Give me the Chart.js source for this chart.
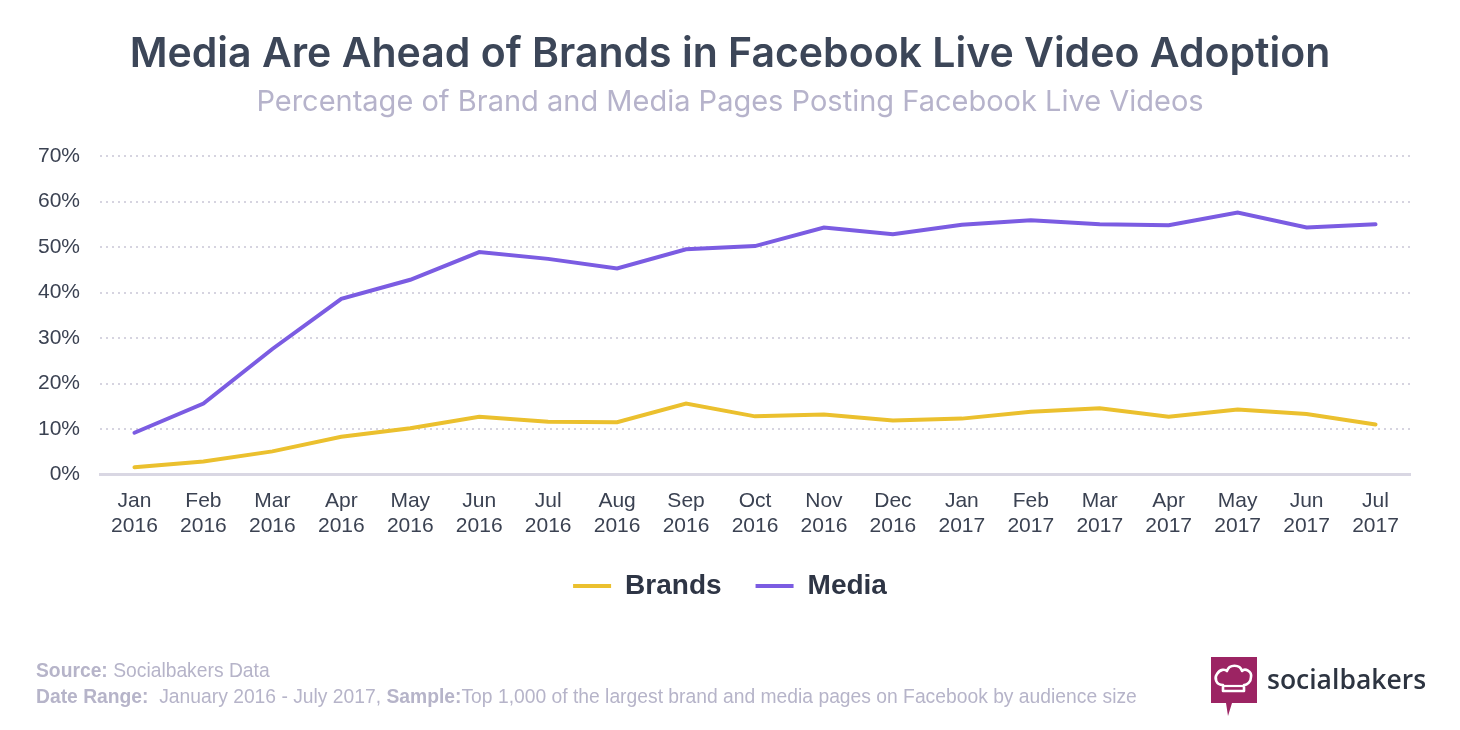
<!DOCTYPE html>
<html>
<head>
<meta charset="utf-8">
<script src="https://cdn.jsdelivr.net/npm/chart.js@4.4.1/dist/chart.umd.min.js"></script>
<style>
  html, body { margin: 0; padding: 0; background: #fff; }
  #wrap { position: relative; width: 1460px; height: 730px; }
  #chart { position: absolute; left: 0; top: 0; }
  .foot { position: absolute; left: 36px; font-family: "Liberation Sans", Arial, sans-serif; font-size: 19.3px; color: #b6b4c9; white-space: nowrap; }
  .foot b { font-weight: 700; }
  #logo { position: absolute; left: 1208px; top: 655px; }
  #logoText { position: absolute; left: 1267px; top: 661px; font-family: "Open Sans", sans-serif; font-weight: 600; font-size: 26.5px; color: #2d3441; }
</style>
</head>
<body>
<div id="wrap">
  <canvas id="chart" width="1460" height="730"></canvas>
  <div class="foot" style="top:660px"><b>Source:</b> Socialbakers Data</div>
  <div class="foot" style="top:686px"><b>Date Range:</b>&nbsp; January 2016 - July 2017, <b>Sample:</b>Top 1,000 of the largest brand and media pages on Facebook by audience size</div>
  <svg id="logo" width="52" height="64" viewBox="0 0 52 64">
    <path d="M3 2 H49 V48 H24 L20 61 L18 48 H3 Z" fill="#9c2463"/>
    <path d="M15 36 V30 C8 30 6 23 9 19 C12 14 17 14 19 16 C21 9 32 9 34 16 C37 13 44 16 43 22 C43 27 39 30 36 30 V36 Z" fill="none" stroke="#fff" stroke-width="2.6" stroke-linejoin="round"/>
    <path d="M16 31 H35" stroke="#fff" stroke-width="2.2"/>
  </svg>
  <div id="logoText">socialbakers</div>
</div>
<script>
const months = ["Jan", "Feb", "Mar", "Apr", "May", "Jun", "Jul", "Aug", "Sep", "Oct", "Nov", "Dec",
  "Jan", "Feb", "Mar", "Apr", "May", "Jun", "Jul"];
const years = ["2016", "2016", "2016", "2016", "2016", "2016", "2016", "2016", "2016", "2016", "2016", "2016",
  "2017", "2017", "2017", "2017", "2017", "2017", "2017"];
const brands = [1.6, 2.9, 5.1, 8.3, 10.2, 12.7, 11.6, 11.5, 15.6, 12.8, 13.2, 11.9, 12.3, 13.8, 14.6, 12.7, 14.3, 13.3, 11.0];
const media = [9.2, 15.6, 27.6, 38.6, 42.8, 48.9, 47.4, 45.3, 49.5, 50.2, 54.3, 52.8, 54.9, 55.9, 55.0, 54.8, 57.6, 54.3, 55.0];
const yTicks = [0, 10, 20, 30, 40, 50, 60, 70];

const labels = months.map((m, i) => [m, years[i]]);
const tickFont = { family: "Liberation Sans, Arial, sans-serif", size: 21 };

const ctx = document.getElementById("chart");
const chart = new Chart(ctx, {
  type: "line",
  data: {
    labels: labels,
    datasets: [
      {
        label: "Brands",
        data: brands,
        borderColor: "#ebc02e",
        backgroundColor: "#ebc02e",
        borderWidth: 4,
        borderCapStyle: "round",
        pointRadius: 0,
        tension: 0,
      },
      {
        label: "Media",
        data: media,
        borderColor: "#7b5ce2",
        backgroundColor: "#7b5ce2",
        borderWidth: 4,
        borderCapStyle: "round",
        pointRadius: 0,
        tension: 0,
      },
    ],
  },
  options: {
    responsive: false,
    animation: false,
    layout: { padding: { top: 30, left: 0, right: 0, bottom: 120 } },
    plugins: {
      title: {
        display: true,
        text: "Media Are Ahead of Brands in Facebook Live Video Adoption",
        font: { family: "Inter, sans-serif", size: 41, weight: "600" },
        color: "#3c4658",
        padding: { top: 0, bottom: 6 },
      },
      subtitle: {
        display: true,
        text: "Percentage of Brand and Media Pages Posting Facebook Live Videos",
        font: { family: "Inter, sans-serif", size: 29, weight: "400" },
        color: "#b6b3cb",
        padding: { top: 0, bottom: 36 },
      },
      legend: {
        position: "bottom",
        labels: {
          usePointStyle: true,
          pointStyle: "line",
          pointStyleWidth: 38,
          color: "#2e3545",
          font: { family: "Liberation Sans, Arial, sans-serif", size: 28, weight: "bold" },
          padding: 34,
        },
      },
      tooltip: { enabled: false },
    },
    scales: {
      x: {
        offset: true,
        afterFit: (scale) => { scale.height -= 15; },
        grid: { display: false, drawTicks: false },
        border: { display: true, color: "#d9d7e3", width: 3 },
        ticks: { color: "#3b4252", font: tickFont, padding: 14, maxRotation: 0, autoSkip: false },
      },
      y: {
        min: 0,
        max: 70,
        afterFit: (scale) => { scale.width = 100; },
        afterBuildTicks: (scale) => { scale.ticks = yTicks.map((v) => ({ value: v })); },
        grid: { color: "#d6d4e0", lineWidth: 2, drawTicks: false },
        border: { display: false, dash: [2, 4] },
        ticks: { color: "#3b4252", font: tickFont, padding: 20, callback: (v) => v + "%" },
      },
      yRight: {
        position: "right",
        min: 0,
        max: 70,
        afterFit: (scale) => { scale.width = 50; },
        grid: { display: false, drawTicks: false },
        border: { display: false },
        ticks: { display: false },
      },
    },
  },
});
</script>
</body>
</html>
